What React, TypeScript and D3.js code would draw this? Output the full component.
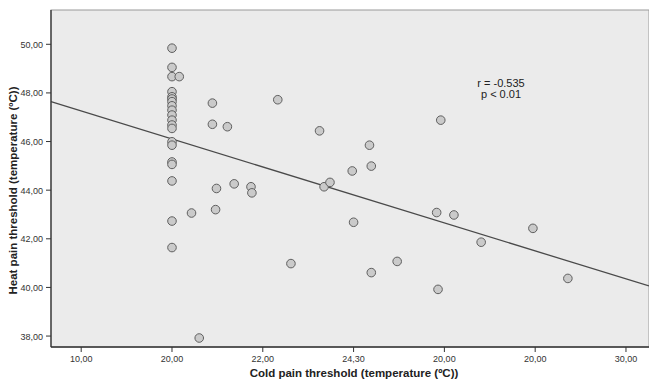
import React from 'react';
import * as d3 from 'd3';

// cold pain threshold (x) and heat pain threshold (y)
const coldValues = [
  20.0, 20.0, 20.0, 20.0, 20.0, 20.0, 20.0, 20.0, 20.0, 20.0,
  20.0, 20.0, 20.0, 20.0, 20.0, 20.0, 20.0, 20.0, 20.0, 20.0,
  20.16, 20.43, 20.96, 20.6, 20.89, 20.89, 21.22, 20.98, 21.37, 21.74,
  21.76, 22.33, 22.62, 23.25, 23.35, 23.48, 23.97, 24.0, 24.35, 24.39,
  24.39, 24.96, 25.92, 25.83, 26.21, 26.81, 25.86, 27.95, 28.72,
];
const heatValues = [
  49.84, 49.05, 48.67, 48.05, 47.84, 47.75, 47.64, 47.47, 47.29, 47.09,
  46.88, 46.68, 46.54, 45.99, 45.85, 45.16, 45.06, 44.38, 42.73, 41.64,
  48.67, 43.06, 43.2, 37.92, 47.58, 46.71, 46.61, 44.07, 44.26, 44.14,
  43.89, 47.72, 40.98, 46.44, 44.14, 44.32, 44.79, 42.68, 45.85, 44.99,
  40.61, 41.07, 46.88, 43.08, 42.98, 41.86, 39.92, 42.43, 40.37,
];

// fit line end points (as drawn in the original)
const fitX = [17.335, 30.507];
const fitY = [47.64, 40.06];

const xTicks = [18, 20, 22, 24, 26, 28, 30];
const xTickLabels = ['10,00', '20,00', '22,00', '24,30', '20,00', '20,00', '30,00'];
const yTicks = [38, 40, 42, 44, 46, 48, 50];
const yTickLabels = ['38,00', '40,00', '42,00', '44,00', '46,00', '48,00', '50,00'];

const statLines = ['r = -0.535', 'p < 0.01'];

const W = 649;
const H = 383;
const margin = { top: 10, right: 0, bottom: 36, left: 51 };
const font = '"Liberation Sans", Arial, sans-serif';

export default function App() {
  const x = d3.scaleLinear().domain([17.335, 30.507]).range([margin.left, W - margin.right]);
  const y = d3.scaleLinear().domain([37.55, 51.41]).range([H - margin.bottom, margin.top]);

  const pts = coldValues.map((c, i) => ({ c, h: heatValues[i] }));
  const line = d3.line<number>()
    .x(d => x(fitX[d]))
    .y(d => y(fitY[d]));

  const bottom = H - margin.bottom;

  return (
    <svg width={W} height={H} style={{ position: 'absolute', left: 0, top: 0, background: '#fff' }}>
      <rect x={margin.left} y={margin.top} width={W - margin.left} height={bottom - margin.top}
        fill="#ebebeb" stroke="#9a9a9a" strokeWidth={1} />

      <path d={line([0, 1]) || ''} fill="none" stroke="#4a4a4a" strokeWidth={1.3} />

      {pts.map((p, i) => (
        <circle key={i} cx={x(p.c)} cy={y(p.h)} r={4.3}
          fill="#cacaca" stroke="#5f5f5f" strokeWidth={1} />
      ))}

      {/* axes */}
      <line x1={margin.left} x2={margin.left} y1={margin.top} y2={bottom} stroke="#333" strokeWidth={1.3} />
      <line x1={margin.left} x2={W} y1={bottom} y2={bottom} stroke="#333" strokeWidth={1.3} />

      {yTicks.map((t, i) => (
        <g key={t}>
          <line x1={margin.left - 5} x2={margin.left} y1={y(t)} y2={y(t)} stroke="#333" />
          <text x={margin.left - 8} y={y(t) + 3.5} textAnchor="end" fontSize={9}
            fontFamily={font} fill="#333">{yTickLabels[i]}</text>
        </g>
      ))}
      {xTicks.map((t, i) => (
        <g key={t}>
          <line x1={x(t)} x2={x(t)} y1={bottom} y2={bottom + 5} stroke="#333" />
          <text x={x(t)} y={bottom + 15} textAnchor="middle" fontSize={9}
            fontFamily={font} fill="#333">{xTickLabels[i]}</text>
        </g>
      ))}

      <text x={354} y={377} textAnchor="middle" fontSize={11.5} fontWeight="bold"
        fontFamily={font} fill="#222">Cold pain threshold (temperature (ºC))</text>
      <text transform={`translate(17,${(margin.top + bottom) / 2 + 12}) rotate(-90)`} textAnchor="middle"
        fontSize={11.5} fontWeight="bold" fontFamily={font} fill="#222">
        Heat pain threshold (temperature (ºC))
      </text>

      {statLines.map((s, i) => (
        <text key={s} x={501} y={87 + i * 11} textAnchor="middle" fontSize={11}
          fontFamily={font} fill="#222">{s}</text>
      ))}
    </svg>
  );
}
